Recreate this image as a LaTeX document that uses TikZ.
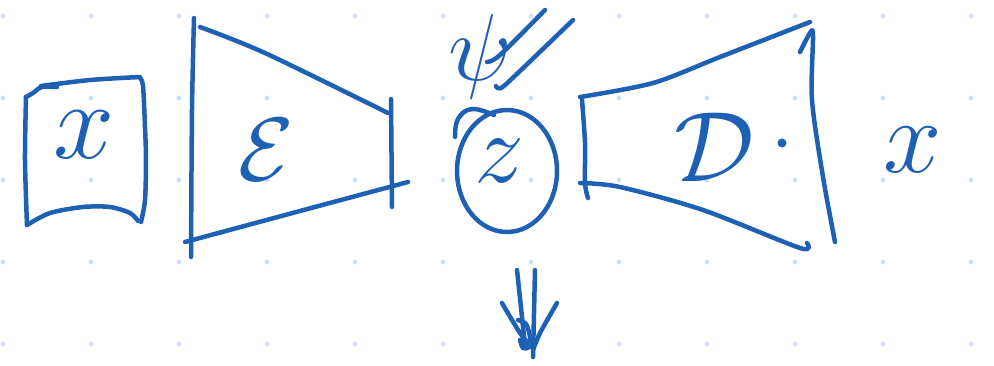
\documentclass[tikz,border=0pt]{standalone}
\usepackage{fix-cm}
\definecolor{ink}{RGB}{30,96,180}
\definecolor{griddot}{RGB}{205,225,250}
\tikzset{
  inkline/.style={draw=ink, line width=4.5pt, line cap=round, line join=round},
  letter/.style={text=ink, inner sep=0pt, anchor=base},
}
\newcommand{\bigsz}[1]{\fontsize{#1}{#1}\selectfont}
\begin{document}
\begin{tikzpicture}[x=1pt,y=-1pt]
\useasboundingbox (0,0) rectangle (994,365);
% dot grid
\foreach \i in {0,...,11}{
  \foreach \j in {0,...,4}{
    \fill[griddot] ({3+88*\i},{16+82*\j}) circle (2.5pt);
  }
}
% input box
\draw[inkline] plot[smooth, tension=0.6] coordinates {(57,87)(42,87)(33,93)(26,97)};
\draw[inkline] plot[smooth] coordinates {(26,97)(25,160)(27,225)};
\draw[inkline] plot[smooth] coordinates {(41,86)(90,80)(140,77)};
\draw[inkline] plot[smooth] coordinates {(140,78)(143,86)(145,127)(146,160)(145,200)(141,222)};
\draw[inkline] plot[smooth] coordinates {(27,225)(50,213)(83,207)(110,207)(130,213)(138,221)};
\node[letter] (xin) at (84,158) {\bigsz{110}$x$};
% encoder
\draw[inkline] plot[smooth] coordinates {(194,18)(192,110)(191,257)};
\draw[inkline] plot[smooth] coordinates {(200,27)(265,53)(388,113)};
\draw[inkline] (391,99) -- (392,207);
\draw[inkline] plot[smooth] coordinates {(185,242)(300,211)(408,182)};
\node[letter] (enc) at (266,180) {\bigsz{90}$\mathcal{E}$};
% latent
\draw[inkline] (507,171) ellipse [x radius=50, y radius=61];
\draw[inkline] plot[smooth, tension=0.7] coordinates {(455,137)(458,119)(472,109)(494,115)};
\node[letter] (z) at (499,182) {\bigsz{100}$z$};
% psi
\node[letter] (psi) at (480,80) {\bigsz{95}$\psi$};
\draw[inkline] plot[smooth, tension=0.5] coordinates {(487,62)(500,55)(545,10)};
\draw[inkline] plot[smooth, tension=0.3] coordinates {(496,86)(504,86)(573,20)};
% decoder
\draw[inkline] plot[smooth] coordinates {(580,97)(653,83)(720,57)(810,22)};
\draw[inkline] plot[smooth] coordinates {(582,100)(585,143)(585,183)(588,198)};
\draw[inkline] plot[smooth] coordinates {(580,183)(620,187)(703,210)(800,248)(807,243)};
\draw[inkline] plot[smooth, tension=0.5] coordinates {(800,52)(810,33)(813,36)(812,100)(823,177)(835,242)};
\node[letter] (dec) at (714,181) {\bigsz{100}$\mathcal{D}$};
\fill[ink] (782,143) circle (4.5pt);
% output x
\node[letter] (xout) at (913,172) {\bigsz{105}$x$};
% down double arrow
\draw[inkline] plot[smooth] coordinates {(517,270)(522,317)(525,347)};
\draw[inkline] (535,270) -- (533,357);
\draw[inkline] plot[smooth] coordinates {(502,303)(520,333)(532,347)};
\draw[inkline] plot[smooth] coordinates {(557,303)(540,333)(533,350)};
\draw[inkline] plot[smooth] coordinates {(518,320)(526,324)(530,337)(529,347)(523,348)(520,340)};
\end{tikzpicture}
\end{document}
